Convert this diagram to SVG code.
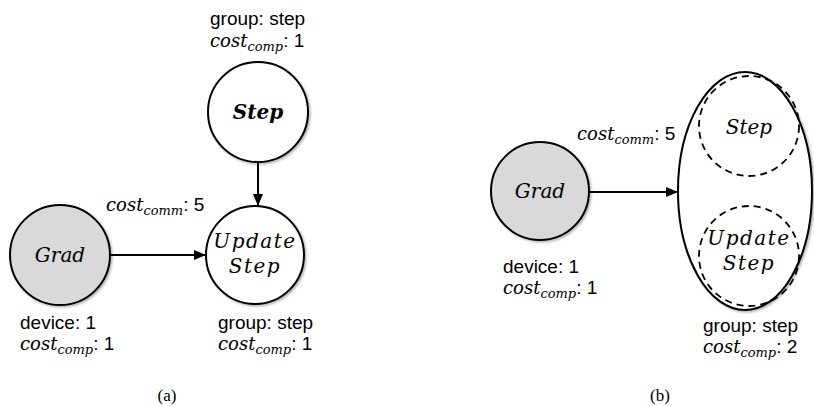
<svg xmlns="http://www.w3.org/2000/svg" width="814" height="406" viewBox="0 0 814 406">
<defs>
<marker id="arr" markerWidth="12" markerHeight="10" refX="12" refY="5" orient="auto" markerUnits="userSpaceOnUse">
<path d="M0,0 L12,5 L0,10 Z" fill="#000"/>
</marker>
<filter id="sh" x="-20%" y="-20%" width="140%" height="140%">
<feDropShadow dx="1.5" dy="1.5" stdDeviation="1.2" flood-color="#000" flood-opacity="0.3"/>
</filter>
</defs>
<style>
.node{stroke:#000;stroke-width:2;fill:#fff;filter:url(#sh)}
.grey{fill:#d9d9d9}
.dash{fill:none;stroke:#000;stroke-width:1.8;stroke-dasharray:7 5}
.edge{stroke:#000;stroke-width:2;fill:none}
.lbl{font-family:"Liberation Sans",Arial,sans-serif;font-size:19px;fill:#000}
.m{font-family:"DejaVu Serif",serif;font-style:italic;font-size:18px}
.sub{font-family:"DejaVu Serif",serif;font-style:italic;font-size:13px}
.nl{font-family:"DejaVu Serif",serif;font-style:italic;font-size:20px;fill:#000;text-anchor:middle}
.cap{font-family:"Liberation Serif","Times New Roman",serif;font-size:17px;fill:#000;text-anchor:middle}
</style>
<rect width="814" height="406" fill="#fff"/>

<g id="connectors">
<line class="edge" x1="258" y1="162" x2="258" y2="206" marker-end="url(#arr)"/>
<line class="edge" x1="110" y1="255" x2="206" y2="255" marker-end="url(#arr)"/>
<line class="edge" x1="589" y1="192" x2="678" y2="192" marker-end="url(#arr)"/>
<line class="edge" x1="749" y1="177" x2="749" y2="205" stroke-dasharray="2 2" marker-end="url(#arr)"/>
</g>

<g id="a-step">
<circle class="node" cx="258" cy="112" r="50"/>
<text class="nl" x="258" y="119" font-weight="bold">Step</text>
<text class="lbl" x="210" y="25">group: step</text>
<text class="lbl" x="210" y="47"><tspan class="m">cost</tspan><tspan class="sub" dy="4">comp</tspan><tspan dy="-4">: 1</tspan></text>
</g>

<g id="a-update">
<circle class="node" cx="255" cy="255" r="49"/>
<text class="nl" x="255" y="248" letter-spacing="1.5">Update</text>
<text class="nl" x="255" y="273" letter-spacing="1.5">Step</text>
<text class="lbl" x="218" y="329">group: step</text>
<text class="lbl" x="218" y="350"><tspan class="m">cost</tspan><tspan class="sub" dy="4">comp</tspan><tspan dy="-4">: 1</tspan></text>
</g>

<g id="a-grad">
<circle class="node grey" cx="60" cy="255" r="50"/>
<text class="nl" x="60" y="262">Grad</text>
<text class="lbl" x="20" y="329">device: 1</text>
<text class="lbl" x="20" y="350"><tspan class="m">cost</tspan><tspan class="sub" dy="4">comp</tspan><tspan dy="-4">: 1</tspan></text>
</g>

<g id="a-comm">
<text class="lbl" x="106" y="211"><tspan class="m">cost</tspan><tspan class="sub" dy="4">comm</tspan><tspan dy="-4">: 5</tspan></text>
</g>

<g id="caption-a"><text class="cap" x="167" y="401">(a)</text></g>

<g id="b-grad">
<circle class="node grey" cx="540" cy="191" r="49"/>
<text class="nl" x="540" y="198">Grad</text>
<text class="lbl" x="503" y="273">device: 1</text>
<text class="lbl" x="503" y="294"><tspan class="m">cost</tspan><tspan class="sub" dy="4">comp</tspan><tspan dy="-4">: 1</tspan></text>
</g>

<g id="b-group">
<ellipse class="node" cx="745" cy="191" rx="67" ry="119"/>
<text class="lbl" x="703" y="332">group: step</text>
<text class="lbl" x="703" y="353"><tspan class="m">cost</tspan><tspan class="sub" dy="4">comp</tspan><tspan dy="-4">: 2</tspan></text>
</g>

<g id="b-step">
<circle class="dash" cx="749" cy="126" r="50"/>
<text class="nl" x="749" y="134">Step</text>
</g>

<g id="b-update">
<circle class="dash" cx="749" cy="256" r="50"/>
<text class="nl" x="749" y="245" letter-spacing="1.5">Update</text>
<text class="nl" x="749" y="270" letter-spacing="1.5">Step</text>
</g>

<g id="b-comm">
<text class="lbl" x="577" y="140"><tspan class="m">cost</tspan><tspan class="sub" dy="4">comm</tspan><tspan dy="-4">: 5</tspan></text>
</g>

<g id="caption-b"><text class="cap" x="660" y="401">(b)</text></g>
</svg>
